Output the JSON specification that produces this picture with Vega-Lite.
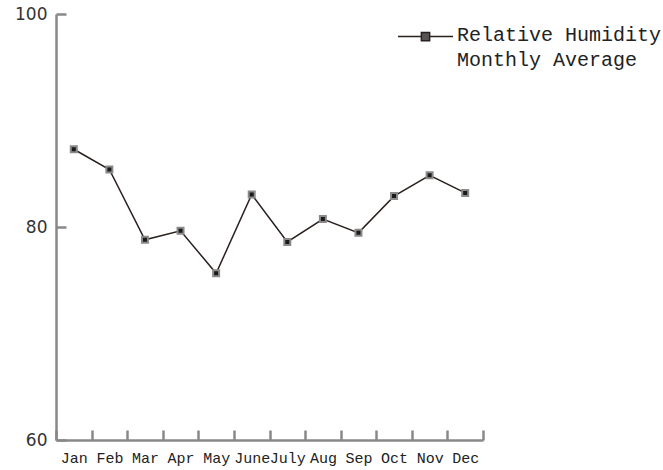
{
  "$schema": "https://vega.github.io/schema/vega-lite/v6.json",
  "autosize": "none",
  "width": 427,
  "height": 426,
  "padding": {"left": 56, "top": 14, "right": 180, "bottom": 30},
  "background": "white",
  "config": {"view": {"stroke": null}},
  "data": {
    "values": [
      {"month": "Jan", "humidity": 87.3, "series": "RH"},
      {"month": "Feb", "humidity": 85.4, "series": "RH"},
      {"month": "Mar", "humidity": 78.8, "series": "RH"},
      {"month": "Apr", "humidity": 79.65, "series": "RH"},
      {"month": "May", "humidity": 75.65, "series": "RH"},
      {"month": "June", "humidity": 83.05, "series": "RH"},
      {"month": "July", "humidity": 78.6, "series": "RH"},
      {"month": "Aug", "humidity": 80.75, "series": "RH"},
      {"month": "Sep", "humidity": 79.45, "series": "RH"},
      {"month": "Oct", "humidity": 82.9, "series": "RH"},
      {"month": "Nov", "humidity": 84.85, "series": "RH"},
      {"month": "Dec", "humidity": 83.2, "series": "RH"}
    ]
  },
  "encoding": {
    "x": {
      "field": "month", "type": "nominal", "sort": null,
      "scale": {"type": "band", "paddingInner": 0, "paddingOuter": 0},
      "axis": {
        "title": null, "labelAngle": 0, "tickBand": "extent",
        "domainColor": "#888", "domainWidth": 2.5, "tickColor": "#888", "tickWidth": 2.5,
        "tickSize": -10, "labelPadding": 20,
        "labelFont": "Liberation Mono", "labelFontSize": 15, "labelColor": "#222",
        "grid": false
      }
    },
    "y": {
      "field": "humidity", "type": "quantitative",
      "scale": {"domain": [60, 100], "nice": false, "zero": false},
      "axis": {
        "title": null, "values": [60, 80, 100], "grid": false,
        "domainColor": "#888", "domainWidth": 2.5, "tickColor": "#888", "tickWidth": 2.5,
        "tickSize": -10, "labelPadding": 19,
        "labelFont": "DejaVu Sans", "labelFontSize": 17, "labelColor": "#333"
      }
    }
  },
  "layer": [
    {
      "mark": {"type": "line", "color": "#2a211e", "strokeWidth": 1.5},
      "encoding": {
        "color": {
          "field": "series", "type": "nominal",
          "scale": {"range": ["#2a211e"]},
          "legend": {
            "title": null, "orient": "none", "legendX": 341, "legendY": -6,
            "symbolType": "M-1,0H-0.15M0.15,0H1M-0.15,-0.15H0.15V0.15H-0.15Z",
            "symbolSize": 3025, "symbolStrokeWidth": 1.5, "symbolStrokeColor": "#2a211e", "symbolFillColor": "#555",
            "labelExpr": "['Relative Humidity', 'Monthly Average']",
            "labelFont": "Liberation Mono", "labelFontSize": 20, "labelColor": "#222",
            "labelOffset": 3, "labelLimit": 400, "labelBaseline": "top",
            "encode": {"labels": {"update": {"lineHeight": {"value": 25}, "dy": {"value": -12}}}}
          }
        }
      }
    },
    {
      "mark": {"type": "point", "shape": "square", "size": 36, "filled": true, "fill": "#1a1a1a", "stroke": "#8a8a8a", "strokeWidth": 2, "opacity": 1}
    }
  ]
}
